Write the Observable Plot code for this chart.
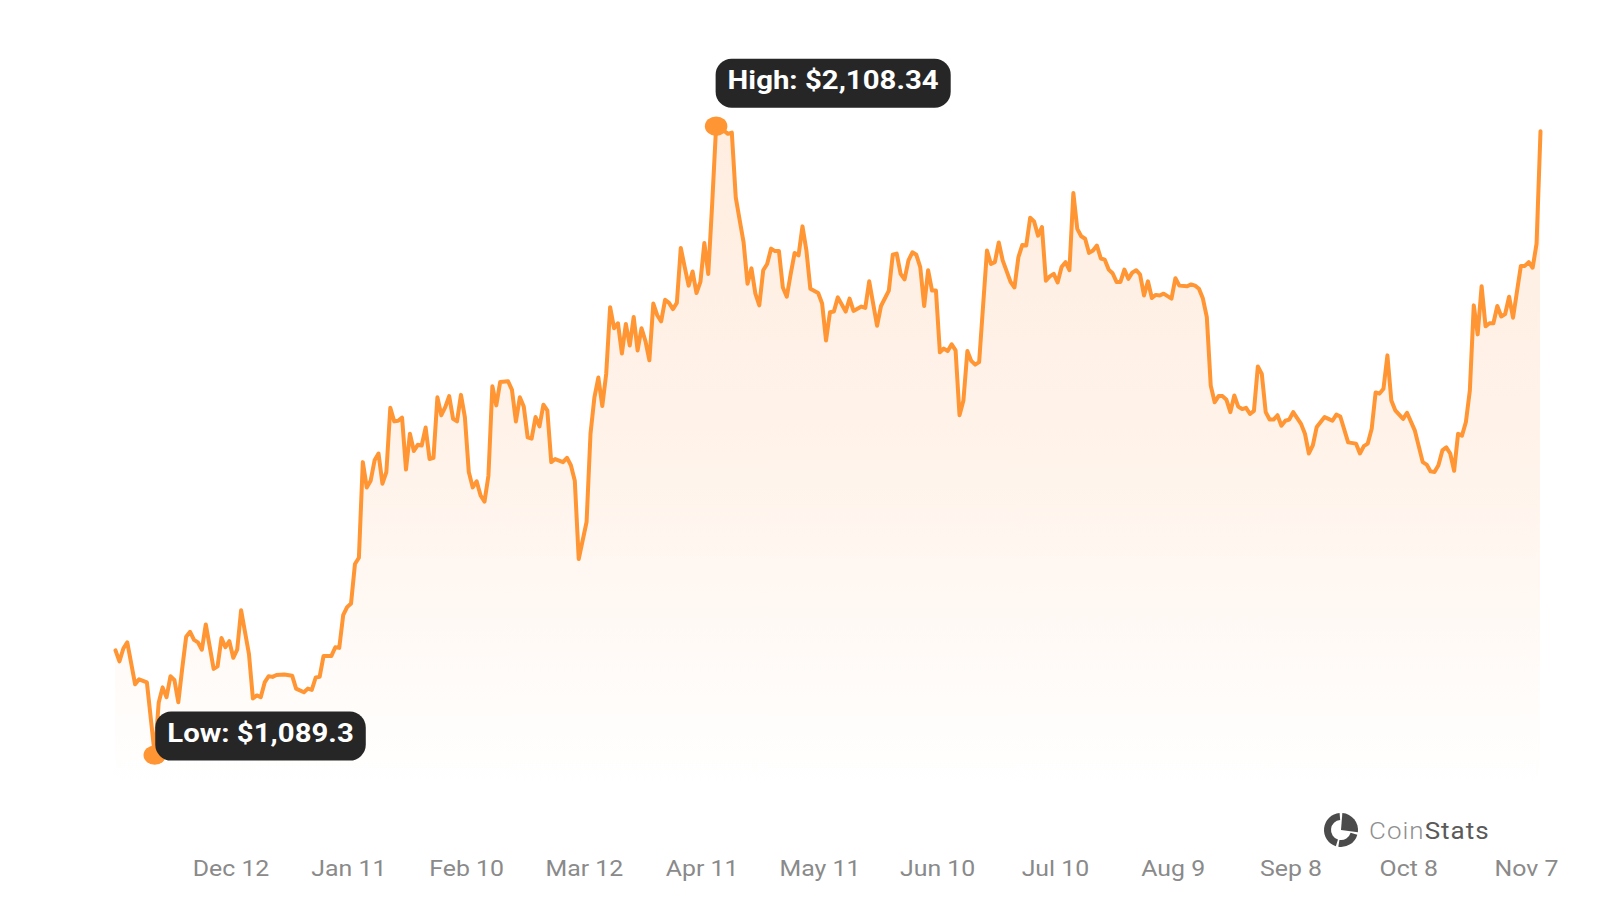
<!DOCTYPE html>
<html>
<head>
<meta charset="utf-8">
<script src="https://cdn.jsdelivr.net/npm/d3@7"></script>
<script src="https://cdn.jsdelivr.net/npm/@observablehq/plot@0.6"></script>
<style>
  html, body { margin: 0; padding: 0; background: #fff; }
  svg { display: block; }
</style>
</head>
<body>
<div id="chart"></div>
<script>
const startDate = [2022, 10, 9];
const dayIndex = [0,1,2,3,5,6,8,10,11,12,13,14,15,16,17,18,19,20,21,22,23,25,26,27,28,29,30,31,32,34,35,36,37,38,39,40,41,43,45,46,48,49,50,51,52,53,55,56,57,58,59,60,61,62,63,64,65,66,67,68,69,70,71,72,73,74,75,76,77,78,79,80,81,82,83,84,85,86,87,88,89,90,91,92,93,94,95,96,97,98,100,101,102,103,104,105,106,107,108,109,110,111,112,114,115,116,117,118,120,121,122,123,124,125,126,127,128,129,130,131,132,133,134,135,136,137,138,139,140,141,142,143,144,145,146,147,148,149,150,151,152,153,155,156,157,158,159,160,161,162,163,164,165,166,167,168,169,170,171,172,173,174,175,176,177,179,180,181,182,183,184,186,187,188,190,191,192,194,195,197,198,199,200,201,202,203,204,205,206,207,208,209,210,211,212,213,214,215,216,217,218,219,220,222,223,224,225,226,228,229,230,231,232,233,234,235,236,237,238,239,240,241,242,243,244,245,246,247,248,249,250,251,252,253,254,255,256,257,258,259,260,261,262,263,264,265,266,267,269,270,271,273,274,275,276,277,278,279,280,281,282,283,284,285,286,287,288,289,290,291,292,293,294,295,296,297,298,299,300,302,303,304,305,306,308,309,310,311,312,314,316,317,318,319,320,321,322,323,324,325,326,328,329,331,333,334,335,336,337,338,339,340,341,342,343,344,345,346,347,348,349,350,351,352,353,354,355,356,357,358,359,360,361,362,363];
const prices = [1259,1241,1262,1272,1204,1212,1207,1089.3,1174,1199,1183,1217,1211,1175,1230,1281,1289,1276,1272,1260,1301,1229,1233,1279,1264,1274,1247,1260,1324,1253,1181,1186,1183,1207,1217,1216,1219,1220,1218,1197,1191,1197,1195,1215,1216,1250,1250,1264,1263,1316,1329,1335,1399,1409,1564,1523,1534,1567,1578,1529,1548,1652,1630,1631,1636,1552,1610,1582,1592,1591,1620,1569,1571,1669,1640,1653,1671,1634,1630,1673,1637,1548,1523,1533,1510,1500,1542,1687,1656,1694,1695,1681,1630,1669,1654,1604,1602,1637,1622,1657,1648,1564,1569,1564,1571,1559,1534,1407,1467,1610,1669,1701,1655,1707,1815,1781,1789,1740,1788,1753,1799,1745,1781,1760,1729,1821,1802,1792,1827,1822,1812,1822,1911,1880,1850,1873,1838,1856,1919,1869,1983,2108.34,2101,2096,2098,1993,1956,1920,1853,1878,1837,1818,1875,1885,1910,1906,1906,1847,1832,1869,1903,1899,1946,1907,1845,1838,1821,1761,1807,1808,1831,1808,1829,1809,1816,1814,1857,1785,1817,1842,1900,1902,1869,1860,1891,1904,1900,1880,1817,1875,1842,1842,1742,1748,1744,1755,1745,1640,1664,1744,1728,1722,1726,1907,1885,1888,1920,1891,1856,1847,1896,1916,1915,1960,1954,1931,1945,1858,1865,1869,1855,1880,1888,1875,2000,1942,1930,1926,1903,1907,1915,1894,1892,1876,1870,1856,1856,1876,1861,1871,1875,1868,1834,1857,1830,1835,1834,1837,1829,1862,1850,1849,1852,1850,1845,1829,1799,1688,1661,1671,1671,1665,1645,1672,1654,1650,1652,1642,1647,1719,1707,1645,1633,1633,1640,1623,1631,1633,1645,1626,1610,1578,1591,1621,1637,1634,1631,1641,1638,1596,1594,1578,1590,1594,1618,1677,1675,1683,1737,1664,1648,1634,1644,1615,1564,1560,1549,1548,1559,1583,1588,1578,1550,1610,1607,1629,1680,1818,1771,1849,1784,1789,1789,1817,1800,1804,1832,1798,1840,1882,1882,1888,1879,1918,2100];
const tickDates = ["2022-12-12","2023-01-11","2023-02-10","2023-03-12","2023-04-11","2023-05-11","2023-06-10","2023-07-10","2023-08-09","2023-09-08","2023-10-08","2023-11-07"];
const tickLabels = ["Dec 12","Jan 11","Feb 10","Mar 12","Apr 11","May 11","Jun 10","Jul 10","Aug 9","Sep 8","Oct 8","Nov 7"];
const lowPrice = 1089.3, highPrice = 2108.34;
const baselinePrice = 1040;
const lineColor = "#FF9533";
const stretch = 1.13;

const series = dayIndex.map((d, i) => ({
  date: new Date(Date.UTC(startDate[0], startDate[1], startDate[2] + d)),
  price: prices[i]
}));
const extremes = [
  {...series.find(d => d.price === highPrice), label: "High: $2,108.34", px: 0, py: -18},
  {...series.find(d => d.price === lowPrice), label: "Low: $1,089.3", px: 1, py: 6}
];
const tickMap = new Map(tickDates.map((t, i) => [+new Date(t + "T00:00:00Z"), tickLabels[i]]));

function gradientDefs() {
  const defs = d3.create("svg:defs");
  const g = defs.append("linearGradient").attr("id", "areaFade")
    .attr("x1", 0).attr("y1", 0).attr("x2", 0).attr("y2", 1);
  g.append("stop").attr("offset", "0%").attr("stop-color", "#FFEDE0");
  g.append("stop").attr("offset", "50%").attr("stop-color", "#FFF3EA");
  g.append("stop").attr("offset", "100%").attr("stop-color", "#FFFFFF");
  return defs.node();
}

function labelBoxes(data) {
  return function (_, {x, y}) {
    const ctx = document.createElement("canvas").getContext("2d");
    ctx.font = "700 26px Roboto";
    const g = d3.create("svg:g").attr("text-anchor", "start");
    for (const d of data) {
      const w = ctx.measureText(d.label).width * stretch + 24;
      const h = 49;
      const left = x(d.date) + d.px;
      const top = y(d.price) + d.py - h;
      const item = g.append("g").attr("transform", `translate(${left},${top})`);
      item.append("rect").attr("width", w).attr("height", h).attr("rx", 16).attr("fill", "#262626");
      item.append("text").attr("transform", `translate(12,30.5) scale(${stretch},1)`).attr("fill", "#fff")
        .attr("font-family", "Roboto").attr("font-weight", 700).attr("font-size", 26)
        .text(d.label);
    }
    return g.node();
  };
}

function brand() {
  const g = d3.create("svg:g").attr("transform", "translate(1341,830)").attr("text-anchor", "start");
  const arc = d3.arc();
  const color = "#4b4b4b";
  const segs = [
    {innerRadius: 10, outerRadius: 17, startAngle: 1.85, endAngle: 3.3},
    {innerRadius: 10, outerRadius: 17, startAngle: 3.45, endAngle: 6.2},
    {innerRadius: 0, outerRadius: 17, startAngle: 0.08, endAngle: 1.7}
  ];
  for (const s of segs) g.append("path").attr("d", arc(s)).attr("fill", color);
  const t = g.append("text").attr("transform", `translate(28,8.5) scale(${stretch},1)`)
    .attr("font-family", "Roboto").attr("font-size", 23).attr("letter-spacing", 0.9);
  t.append("tspan").attr("fill", "#8f8f8f").attr("font-weight", 300).text("Coin");
  t.append("tspan").attr("fill", "#5a5a5a").attr("font-weight", 400).text("Stats");
  return g.node();
}

const chart = Plot.plot({
  width: 1600,
  height: 900,
  marginLeft: 115,
  marginRight: 60,
  marginTop: 125.7,
  marginBottom: 115,
  style: {background: "#fff", fontFamily: "Roboto, sans-serif", overflow: "visible"},
  x: {type: "utc", domain: [series[0].date, series[series.length - 1].date]},
  y: {domain: [baselinePrice, highPrice]},
  marks: [
    gradientDefs,
    Plot.areaY(series, {x: "date", y1: baselinePrice, y2: "price", fill: "url(#areaFade)"}),
    Plot.lineY(series, {x: "date", y: "price", stroke: lineColor, strokeWidth: 4, strokeLinejoin: "round", strokeLinecap: "round"}),
    Plot.dot(extremes, {x: "date", y: "price", r: 9.7, fill: lineColor}),
    labelBoxes(extremes),
    brand,
    Plot.axisY({ticks: [], tickSize: 0, label: null}),
    Plot.axisX({
      ticks: [...tickMap.keys()].map(k => new Date(k)),
      tickFormat: d => tickMap.get(+d),
      tickSize: 0,
      tickPadding: 74.5,
      dx: -14,
      label: null,
      fontSize: 22,
      fill: "#8a8a8a"
    })
  ]
});
// The reference is horizontally stretched: widen the axis texts and dots the same way.
chart.querySelectorAll('[aria-label="x-axis tick label"] text').forEach(t => {
  t.setAttribute("transform", (t.getAttribute("transform") || "") + ` scale(${stretch},1)`);
});
chart.querySelectorAll('[aria-label="dot"] circle').forEach(c => {
  c.style.transformBox = "fill-box";
  c.style.transformOrigin = "center";
  c.style.transform = "scaleX(1.16)";
});
document.getElementById("chart").append(chart);
</script>
</body>
</html>
